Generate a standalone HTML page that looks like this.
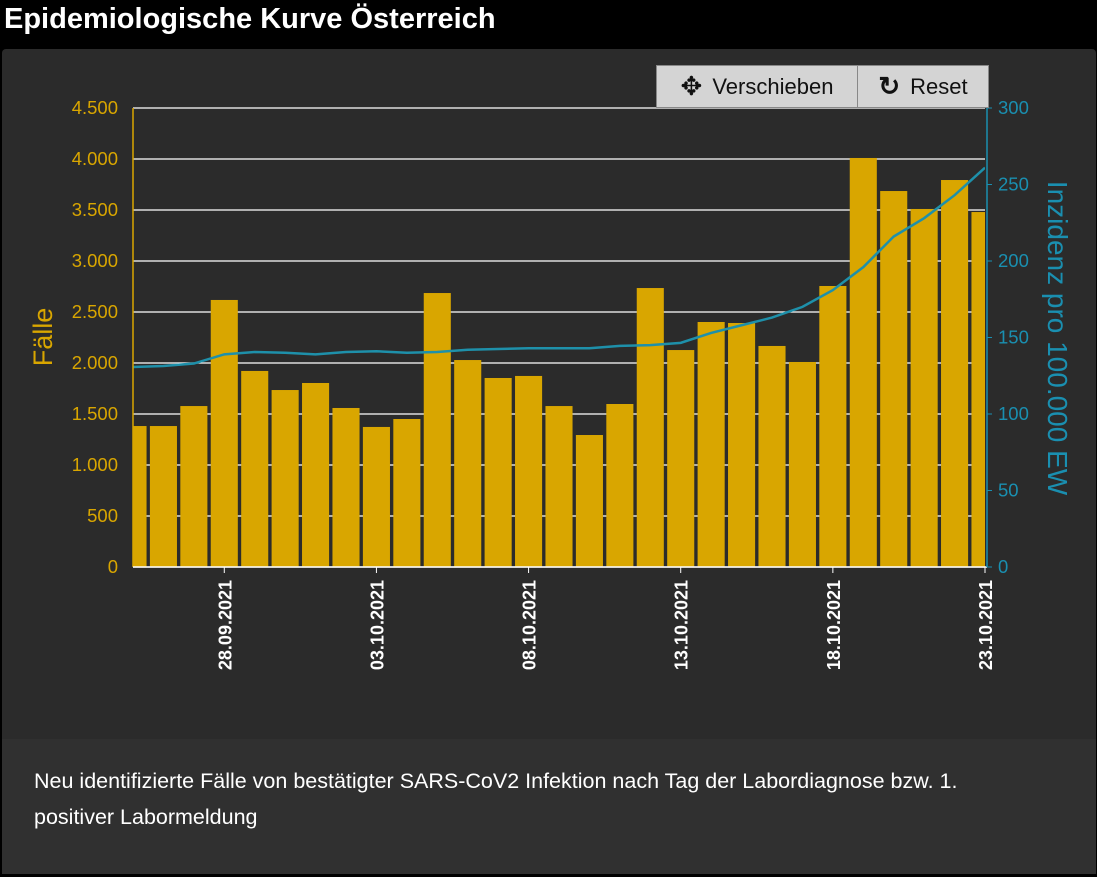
<!DOCTYPE html>
<html><head><meta charset="utf-8"><style>
body{margin:0;width:1097px;height:877px;background:#000;font-family:"Liberation Sans",sans-serif;overflow:hidden;position:relative}
#title{position:absolute;left:4px;top:3px;color:#fff;font-size:29px;font-weight:bold}
#panel{position:absolute;left:2px;top:49px;width:1094px;height:825px;background:#2b2b2b;border-radius:4px}
#caption{position:absolute;left:2px;top:739px;width:1094px;height:135px;background:#303030;color:#fff;font-size:21.5px;line-height:36px;padding:24px 60px 24px 32px;box-sizing:border-box}
#toolbar{position:absolute;left:656px;top:65px;width:331px;height:41px;background:#d4d4d4;border:1px solid #888;display:flex;font-size:22px;color:#111}
#toolbar div{display:flex;align-items:center;justify-content:center}
</style></head><body>
<div id="title">Epidemiologische Kurve Österreich</div>
<div id="panel"></div>
<svg id="chart" width="1097" height="877" style="position:absolute;left:0;top:0"></svg>
<div id="toolbar">
<div style="width:200px;border-right:1px solid #888"><span style="font-size:26px;margin-right:10px">✥</span>Verschieben</div>
<div style="width:130px"><span style="font-size:26px;font-weight:bold;margin-right:10px">↻</span>Reset</div>
</div>
<div id="caption">Neu identifizierte Fälle von bestätigter SARS-CoV2 Infektion nach Tag der Labordiagnose bzw. 1. positiver Labormeldung</div>
<script>
const dates=["25.09","26.09","27.09","28.09","29.09","30.09","01.10","02.10","03.10","04.10","05.10","06.10","07.10","08.10","09.10","10.10","11.10","12.10","13.10","14.10","15.10","16.10","17.10","18.10","19.10","20.10","21.10","22.10","23.10"];
const cases=[1382,1382,1578,2618,1922,1735,1804,1559,1373,1451,2686,2029,1853,1873,1578,1294,1598,2735,2127,2402,2392,2167,2010,2755,4010,3686,3510,3794,3480];
const incidence=[130.7,131.4,133,139,140.5,140,139,140.5,141,140,140.5,142,142.5,143,143,143,144.5,145,146.5,153,158,163,170,181,196,216,228,243,261];
const leftTicks=[0,500,1000,1500,2000,2500,3000,3500,4000,4500];
const rightTicks=[0,50,100,150,200,250,300];
const xTickIdx=[3,8,13,18,23,28];
const svg=document.getElementById('chart');const NS='http://www.w3.org/2000/svg';
const X0=133,X1=985,Y0=567,Y1=108;
const x=i=>X0+(X1-X0)*i/(dates.length-1);
const yL=v=>Y0-(Y0-Y1)*v/4500;
const yR=v=>Y0-(Y0-Y1)*v/300;
function mk(t,a,p){const e=document.createElementNS(NS,t);for(const k in a)e.setAttribute(k,a[k]);(p||svg).appendChild(e);return e;}
const clip=mk('clipPath',{id:'c'});mk('rect',{x:X0,y:0,width:X1-X0,height:877},clip);
leftTicks.forEach(v=>{const l=mk('line',{x1:X0,x2:X1,y1:yL(v),y2:yL(v),stroke:'#fff','stroke-width':1.2});


const t=mk('text',{x:118,y:yL(v)+6,'text-anchor':'end',fill:'#d9a600','font-size':18.5});t.textContent=v.toLocaleString('de-DE');

});
const g=mk('g',{'clip-path':'url(#c)'});
const bw=(X1-X0)/(dates.length-1)*0.89;
cases.forEach((v,i)=>{const r=mk('rect',{x:x(i)-bw/2,y:yL(v),width:bw,height:Y0-yL(v),fill:'#d9a600'},g);

});
const ln=mk('polyline',{points:incidence.map((v,i)=>x(i)+','+yR(v)).join(' '),fill:'none',stroke:'#1e90aa','stroke-width':2.5},g);


mk('line',{x1:X0,x2:X0,y1:Y1,y2:Y0,stroke:'#d9a600','stroke-width':1.5});
mk('line',{x1:X0,x2:X1+2,y1:Y0,y2:Y0,stroke:'#fff','stroke-width':1.5});
mk('line',{x1:987,x2:987,y1:Y1,y2:Y0,stroke:'#1a8fb0','stroke-width':1.5});
rightTicks.forEach(v=>{mk('line',{x1:987,x2:992,y1:yR(v),y2:yR(v),stroke:'#1a8fb0'});
const t=mk('text',{x:998,y:yR(v)+6,fill:'#1a8fb0','font-size':18.5});t.textContent=v;

});
xTickIdx.forEach(i=>{mk('line',{x1:x(i),x2:x(i),y1:Y0,y2:Y0+6,stroke:'#fff'});
const t=mk('text',{x:0,y:0,fill:'#fff','font-size':18,'font-weight':'bold','text-anchor':'end',transform:`translate(${x(i)+7},580) rotate(-90)`});t.textContent=dates[i]+'.2021';

});
const yl=mk('text',{x:0,y:0,fill:'#d9a600','font-size':27,'text-anchor':'middle',transform:'translate(52,337) rotate(-90)'});yl.textContent='Fälle';


const yr=mk('text',{x:0,y:0,fill:'#1a8fb0','font-size':28,'text-anchor':'middle',transform:'translate(1048,338) rotate(90)'});yr.textContent='Inzidenz pro 100.000 EW';


</script>
</body></html>
